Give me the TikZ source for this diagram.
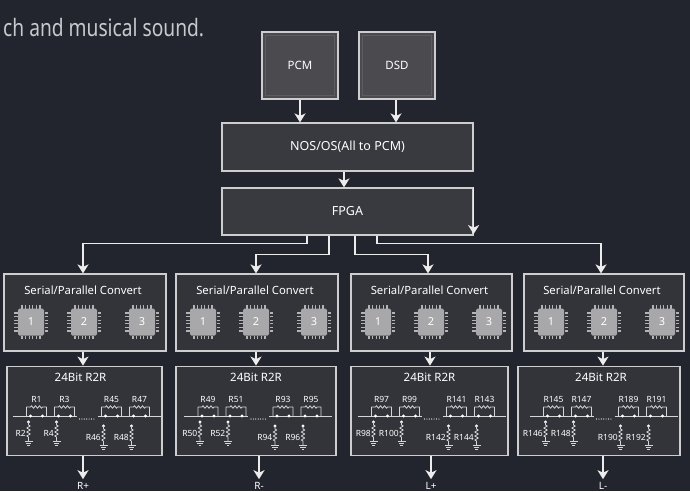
\documentclass[tikz,border=0pt]{standalone}
\usepackage{fontspec}
\setmainfont{Noto Sans}
\usetikzlibrary{arrows.meta,calc}
\definecolor{bg}{RGB}{35,37,46}
\definecolor{boxline}{RGB}{205,205,208}
\definecolor{boxfill}{RGB}{57,58,64}
\definecolor{spfill}{RGB}{50,52,58}
\definecolor{srcfill}{RGB}{74,74,79}
\definecolor{srcinner}{RGB}{92,92,97}
\definecolor{linec}{RGB}{236,236,236}
\definecolor{chipc}{RGB}{168,168,170}
\definecolor{pinc}{RGB}{180,180,182}
\definecolor{cktc}{RGB}{214,214,216}
\definecolor{introc}{RGB}{200,201,205}
\tikzset{
  boxsty/.style={draw=boxline, line width=1.2pt, fill=boxfill, inner sep=0pt, text=white, font=\fontsize{12.5}{14}\selectfont},
  srcbox/.style={boxsty, fill=srcfill, minimum width=76pt, minimum height=67pt, font=\fontsize{11.5}{13}\selectfont},
  spbox/.style={boxsty, fill=spfill, minimum height=77pt},
  rbox/.style={boxsty, fill=spfill, minimum height=89pt},
  titlesty/.style={inner sep=0pt, text=white, font=\fontsize{11.3}{13}\selectfont},
  rtitlesty/.style={inner sep=0pt, text=white, font=\fontsize{11.5}{13}\selectfont},
  arr/.style={draw=linec, line width=1.6pt, -{Stealth[length=9pt,width=11pt,inset=2.5pt]}},
  ckt/.style={draw=cktc, line width=0.8pt, line join=round},
  cktw/.style={fill=white},
  rlbl/.style={inner sep=0pt, text=white, font=\fontsize{8.5}{9}\selectfont},
  chiptxt/.style={inner sep=0pt, text=white, font=\fontsize{11}{12}\selectfont},
  outlbl/.style={inner sep=3pt, text=white, font=\fontsize{10}{11}\selectfont}
}
\newcommand\chipic[4]{%
  \begin{scope}[shift={(#1,#2)}]
    \fill[chipc, rounded corners=1.5pt] (-13,-13.5) rectangle (13,13.5);
    \foreach \p in {-9,-5.4,-1.8,1.8,5.4,9}{
      \fill[pinc] (\p-0.65,-17) rectangle (\p+0.65,-13.5);
      \fill[pinc] (\p-0.65,13.5) rectangle (\p+0.65,17);
      \fill[pinc] (-17,\p-0.65) rectangle (-13.5,\p+0.65);
      \fill[pinc] (13.5,\p-0.65) rectangle (17,\p+0.65);
    }
    \node[chiptxt] (#4) at (0,0) {#3};
  \end{scope}}
\newcommand\rtwor[9]{%
  \begin{scope}[shift={(#1,0)}]
    \draw[ckt] (-72,416) -- (-8,416) (13,416) -- (76,416);
    \foreach \q in {-5,-2.6,...,10} \fill[cktw] (\q,419) circle (0.6);
    \foreach \c/\t in {-48/#2,-20/#3,27/#4,55/#5}{
      \draw[ckt] (\c-10,416) -- (\c-10,407) -- (\c-6,407) -- ++(1,-1.3) -- ++(2,2.6) -- ++(2,-2.6) -- ++(2,2.6) -- ++(2,-2.6) -- ++(2,2.6) -- ++(1,-1.3) -- (\c+10,407) -- (\c+10,416);
      \fill[cktw] (\c-6,416) circle (1.7) (\c+6,416) circle (1.7);
      \node[rlbl] (n\t) at (\c,399.5) {\t};
    }
    \foreach \v/\d/\t in {-56/0/#6,-28/0/#7,19/4/#8,47/4/#9}{
      \fill[cktw] (\v,422+\d) circle (1.6);
      \draw[ckt] (\v,422+\d) -- (\v,425+\d) -- ++(1.8,1) -- ++(-3.6,2) -- ++(3.6,2) -- ++(-3.6,2) -- ++(3.6,2) -- ++(-3.6,2) -- ++(1.8,1) -- (\v,441+\d);
      \draw[ckt] (\v-4,441+\d) -- (\v+4,441+\d) (\v-2.6,443.2+\d) -- (\v+2.6,443.2+\d) (\v-1.2,445.4+\d) -- (\v+1.2,445.4+\d);
      \node[rlbl, anchor=east] (n\t) at (\v-2.5,433+\d) {\t};
    }
  \end{scope}}
\begin{document}
\begin{tikzpicture}[x=1pt,y=-1pt]
\useasboundingbox (0,0) rectangle (690,491);
\fill[bg] (0,0) rectangle (690,491);

% intro text
\node[anchor=base west, inner sep=0pt, text=introc] (intro) at (3,36)
  {\scalebox{0.8}[1]{\fontsize{24}{26}\selectfont ch and musical sound.}};

% sources
\node[srcbox] (pcm) at (300,65.5) {};
\node[srcbox] (dsd) at (397,65.5) {};
\draw[srcinner, line width=0.8pt] ([shift={(4,-4)}]pcm.south west) rectangle ([shift={(-4,4)}]pcm.north east);
\draw[srcinner, line width=0.8pt] ([shift={(4,-4)}]dsd.south west) rectangle ([shift={(-4,4)}]dsd.north east);
\node[text=white, font=\fontsize{11.5}{13}\selectfont, inner sep=0pt] (pcmt) at (pcm) {PCM};
\node[text=white, font=\fontsize{11.5}{13}\selectfont, inner sep=0pt] (dsdt) at (dsd) {DSD};

% NOS and FPGA
\node[boxsty, minimum width=251pt, minimum height=48pt] (nos) at (347.5,147) {NOS/OS(All to PCM)};
\node[boxsty, minimum width=251pt, minimum height=47pt] (fpga) at (347.5,211.5) {FPGA};

\draw[arr] (pcm.south) -- (pcm.south |- nos.north);
\draw[arr] ($(dsd.south)+(-1,0)$) -- ($(dsd.south |- nos.north)+(-1,0)$);
\draw[arr] ($(nos.south)+(-3.5,0)$) -- ($(fpga.north)+(-3.5,0)$);
\draw[arr] (fpga.north east) -- ($(fpga.south east)+(0,-1.5)$);

% serial/parallel boxes
\node[spbox, minimum width=162pt] (sp1) at (85,312.5) {};
\node[spbox, minimum width=162pt] (sp2) at (257,312.5) {};
\node[spbox, minimum width=161pt] (sp3) at (431.5,312.5) {};
\node[spbox, minimum width=160pt] (sp4) at (604,312.5) {};
\foreach \b in {1,2,3,4}{
  \node[titlesty] (spt\b) at ($(sp\b.north)+(-2,17)$) {Serial/Parallel Convert};
}
\chipic{31}{322}{1}{c1a}\chipic{84}{322}{2}{c1b}\chipic{142}{322}{3}{c1c}
\chipic{203}{322}{1}{c2a}\chipic{256}{322}{2}{c2b}\chipic{314}{322}{3}{c2c}
\chipic{378}{322}{1}{c3a}\chipic{431}{322}{2}{c3b}\chipic{489}{322}{3}{c3c}
\chipic{551}{322}{1}{c4a}\chipic{604}{322}{2}{c4b}\chipic{662}{322}{3}{c4c}

% FPGA fan-out
\draw[arr] ($(fpga.south)+(-40.5,0)$) -- ++(0,8) -| ($(sp1.north)+(-2,0)$);
\draw[arr] ($(fpga.south)+(-18.5,0)$) -- ++(0,19) -| ($(sp2.north)+(-1,0)$);
\draw[arr] ($(fpga.south)+(7.5,0)$) -- ++(0,19) -| ($(sp3.north)+(-3.5,0)$);
\draw[arr] ($(fpga.south)+(29.5,0)$) -- ++(0,8) -| ($(sp4.north)+(-3,0)$);

% R2R boxes
\node[rbox, minimum width=155pt] (r1) at (84.5,410.7) {};
\node[rbox, minimum width=160pt] (r2) at (256,410.7) {};
\node[rbox, minimum width=157pt] (r3) at (429.5,410.7) {};
\node[rbox, minimum width=162pt] (r4) at (599,410.7) {};
\node[rtitlesty] (rt1) at ($(r1.north)+(-4,12)$) {24Bit R2R};
\node[rtitlesty] (rt2) at ($(r2.north)+(0,12)$) {24Bit R2R};
\node[rtitlesty] (rt3) at ($(r3.north)+(0,12)$) {24Bit R2R};
\node[rtitlesty] (rt4) at ($(r4.north)+(2,12)$) {24Bit R2R};
\rtwor{84.5}{R1}{R3}{R45}{R47}{R2}{R4}{R46}{R48}
\rtwor{256}{R49}{R51}{R93}{R95}{R50}{R52}{R94}{R96}
\rtwor{429.5}{R97}{R99}{R141}{R143}{R98}{R100}{R142}{R144}
\rtwor{601.5}{R145}{R147}{R189}{R191}{R146}{R148}{R190}{R192}

\draw[arr] ($(sp1.south)+(-2,0)$) -- ($(r1.north)+(-1.5,0)$);
\draw[arr] ($(sp2.south)+(-1,0)$) -- ($(r2.north)+(0,0)$);
\draw[arr] ($(sp3.south)+(-1.5,0)$) -- ($(r3.north)+(0.5,0)$);
\draw[arr] ($(sp4.south)+(-1,0)$) -- ($(r4.north)+(4,0)$);

% outputs
\node[outlbl, anchor=base] (o1) at (83,489.5) {R+};
\node[outlbl, anchor=base] (o2) at (259,489.5) {R-};
\node[outlbl, anchor=base] (o3) at (431,489.5) {L+};
\node[outlbl, anchor=base] (o4) at (603,489.5) {L-};
\draw[arr] ($(r1.south)+(-1.5,0)$) -- (o1.north);
\draw[arr] ($(r2.south)+(3,0)$) -- (o2.north);
\draw[arr] ($(r3.south)+(1.5,0)$) -- (o3.north);
\draw[arr] ($(r4.south)+(4,0)$) -- (o4.north);
\end{tikzpicture}
\end{document}
